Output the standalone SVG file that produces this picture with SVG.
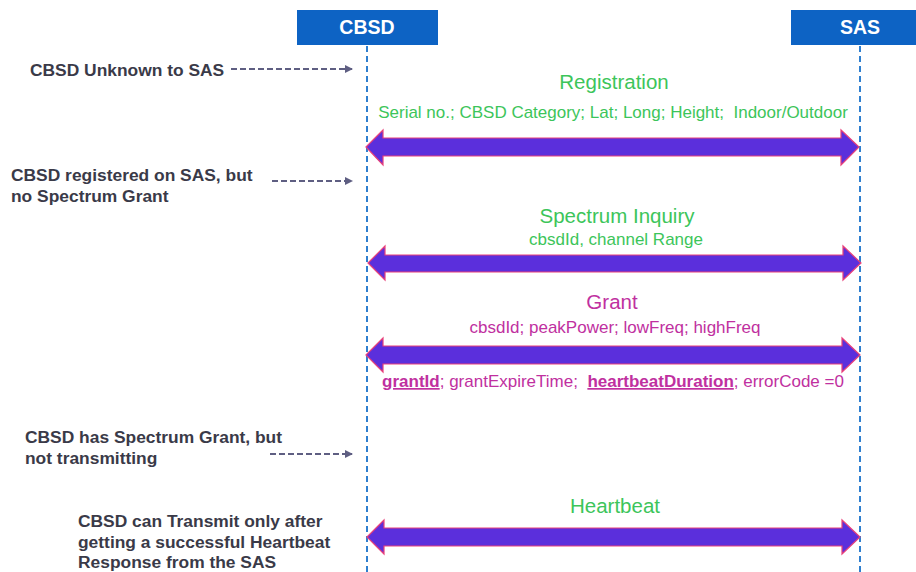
<svg xmlns="http://www.w3.org/2000/svg" width="916" height="572" viewBox="0 0 916 572">
<style>
.hdr{fill:#0d63c4}
.hdrt{font-family:"Liberation Sans",Arial,sans-serif;font-weight:bold;font-size:19.5px;fill:#fff;text-anchor:middle}
.life{stroke:#2f7fcf;stroke-width:2;stroke-dasharray:6,4;fill:none}
.big{fill:#5b2fdc;stroke:#e8407a;stroke-width:1.2}
.lbl{font-family:"Liberation Sans",Arial,sans-serif;font-weight:bold;font-size:17.4px;fill:#3a3a48}
.g1{font-family:"Liberation Sans",Arial,sans-serif;font-size:20.5px;fill:#3cc55a;text-anchor:middle}
.g2{font-family:"Liberation Sans",Arial,sans-serif;font-size:17px;fill:#3cc55a;text-anchor:middle}
.m1{font-family:"Liberation Sans",Arial,sans-serif;font-size:20.5px;fill:#c030a0;text-anchor:middle}
.m2{font-family:"Liberation Sans",Arial,sans-serif;font-size:17px;fill:#c030a0;text-anchor:middle}
.dash{stroke:#5e5e82;stroke-width:2;stroke-dasharray:6,3;fill:none}
</style>
<defs>
<marker id="ah" markerWidth="8" markerHeight="8" refX="7" refY="4" orient="auto" markerUnits="userSpaceOnUse">
<path d="M0,0 L8,4 L0,8 Z" fill="#5e5e82"/>
</marker>
</defs>
<rect width="916" height="572" fill="#fff"/>

<g id="cbsd">
<rect class="hdr" x="297" y="10" width="141" height="35"/>
<text class="hdrt" x="367" y="34">CBSD</text>
</g>
<g id="sas">
<rect class="hdr" x="791" y="10" width="125" height="35"/>
<text class="hdrt" x="860" y="34">SAS</text>
</g>

<g id="lifelines">
<line class="life" x1="367" y1="46" x2="367" y2="572"/>
<line class="life" x1="860" y1="46" x2="860" y2="572"/>
</g>

<g id="connectors">
<line class="dash" x1="231" y1="69" x2="352" y2="69" marker-end="url(#ah)"/>
<line class="dash" x1="272" y1="181" x2="352" y2="181" marker-end="url(#ah)"/>
<line class="dash" x1="270" y1="454" x2="352" y2="454" marker-end="url(#ah)"/>
<polygon class="big" points="366,147 383,130 383,138 841,138 841,130 859,147 841,165 841,156 383,156 383,165"/>
<polygon class="big" points="368,263 385,246 385,255 843,255 843,246 861,263 843,280 843,272 385,272 385,280"/>
<polygon class="big" points="366,355 383,338 383,346 842,346 842,338 860,355 842,372 842,364 383,364 383,372"/>
<polygon class="big" points="367,537 384,520 384,528 842,528 842,520 860,537 842,554 842,546 384,546 384,554"/>
</g>

<g id="label-unknown">
<text class="lbl" x="30" y="76">CBSD Unknown to SAS</text>
</g>
<g id="label-registered">
<text class="lbl" x="11" y="181">CBSD registered on SAS, but</text>
<text class="lbl" x="11" y="202">no Spectrum Grant</text>
</g>
<g id="label-hasgrant">
<text class="lbl" x="25" y="443">CBSD has Spectrum Grant, but</text>
<text class="lbl" x="25" y="464">not transmitting</text>
</g>
<g id="label-transmit">
<text class="lbl" x="78" y="527">CBSD can Transmit only after</text>
<text class="lbl" x="78" y="547.5">getting a successful Heartbeat</text>
<text class="lbl" x="78" y="568">Response from the SAS</text>
</g>

<g id="registration">
<text class="g1" x="614" y="89">Registration</text>
<text class="g2" x="613" y="118" xml:space="preserve">Serial no.; CBSD Category; Lat; Long; Height;  Indoor/Outdoor</text>
</g>
<g id="spectrum-inquiry">
<text class="g1" x="617" y="223">Spectrum Inquiry</text>
<text class="g2" x="616" y="245">cbsdId, channel Range</text>
</g>
<g id="grant">
<text class="m1" x="612" y="309">Grant</text>
<text class="m2" x="615" y="333">cbsdId; peakPower; lowFreq; highFreq</text>
<text class="m2" x="613" y="387" xml:space="preserve"><tspan font-weight="bold" text-decoration="underline">grantId</tspan>; grantExpireTime;  <tspan font-weight="bold" text-decoration="underline">heartbeatDuration</tspan>; errorCode =0</text>
</g>
<g id="heartbeat">
<text class="g1" x="615" y="513">Heartbeat</text>
</g>
</svg>
